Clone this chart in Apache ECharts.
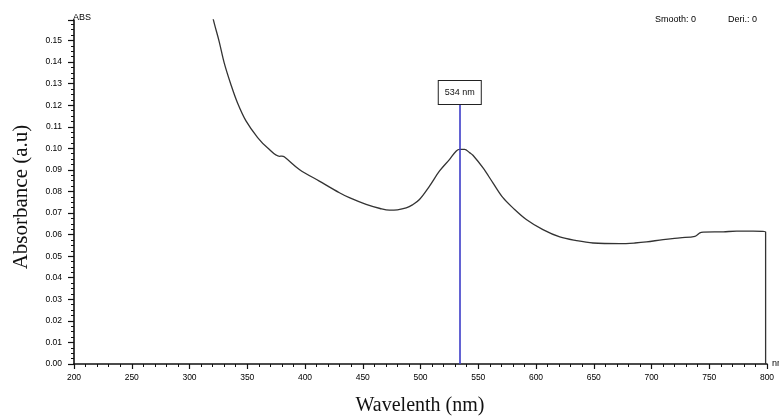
<!DOCTYPE html>
<html>
<head>
    <meta http-equiv="Content-Type" content="text/html; charset=utf-8" />
    <title>Absorbance spectrum</title>
    <style>
        html, body { margin: 0; padding: 0; background: #fff; }
        #main { width: 779px; height: 417px; }
    </style>
</head>
<body>
    <div id="main"></div>
    <script src="https://cdn.jsdelivr.net/npm/echarts@6/dist/echarts.min.js"></script>
    <script type="text/javascript">
        // wavelength (nm) and absorbance
        var wavelength = [319.5, 320.5, 325.7, 330.1, 335.9, 341.6, 348.9, 359.0, 368.0, 378.0, 380.0, 382.0,
            395.1, 412.4, 429.8, 438.4, 452.9, 465.0, 473.1, 480.0, 487.6, 493.0, 499.1, 507.8, 516.5,
            525.2, 531.0, 534.0, 538.2, 542.5, 545.4, 554.0, 562.7, 571.4, 580.0, 591.6, 606.0, 620.6,
            635.0, 649.4, 672.6, 685.6, 695.7, 710.1, 724.6, 737.6, 741.9, 744.8, 762.1, 773.7, 788.1,
            798.8, 798.8];
        var absorbance = [0.164, 0.160, 0.1495, 0.1395, 0.1295, 0.1210, 0.1127, 0.1050, 0.1000, 0.0963, 0.0964, 0.0961,
            0.0902, 0.0848, 0.0794, 0.0771, 0.0740, 0.0721, 0.0713, 0.0715, 0.0724, 0.0738, 0.0763, 0.0825, 0.0895,
            0.0949, 0.0988, 0.0995, 0.0995, 0.0980, 0.0968, 0.0910, 0.0840, 0.0771, 0.0724, 0.0670, 0.0623, 0.0589,
            0.0572, 0.0561, 0.0558, 0.0561, 0.0566, 0.0577, 0.0585, 0.0592, 0.0608, 0.0611, 0.0613, 0.0616, 0.0616,
            0.0613, 0];
        var peakWavelength = 534;
        var peakMarkTop = 0.1205;
        var yTicks = ['0.00', '0.01', '0.02', '0.03', '0.04', '0.05', '0.06', '0.07', '0.08',
            '0.09', '0.10', '0.11', '0.12', '0.13', '0.14', '0.15'];

        var points = wavelength.map(function (w, i) { return [w, absorbance[i]]; });

        var smallFont = { fontFamily: 'Liberation Sans', fontSize: 9, color: '#000' };
        var myChart = echarts.init(document.getElementById('main'));

        var option = {
            animation: false,
            backgroundColor: '#fff',
            grid: { left: 74, right: 12, top: 20, bottom: 53, containLabel: false, outerBoundsMode: 'none' },
            title: [
                { text: 'Smooth: 0', left: 650, top: 10, textStyle: Object.assign({ fontWeight: 'normal' }, smallFont) },
                { text: 'Deri.: 0', left: 723, top: 10, textStyle: Object.assign({ fontWeight: 'normal' }, smallFont) }
            ],
            graphic: [
                {
                    type: 'text', x: 21, y: 197, rotation: Math.PI / 2,
                    style: { text: 'Absorbance (a.u)', font: '21px "Liberation Serif"', fill: '#111',
                        textAlign: 'center', textVerticalAlign: 'middle' }
                },
                {
                    type: 'text', x: 420, y: 406,
                    style: { text: 'Wavelenth (nm)', font: '20px "Liberation Serif"', fill: '#111',
                        textAlign: 'center', textVerticalAlign: 'middle' }
                }
            ],
            xAxis: {
                type: 'value',
                min: 200,
                max: 800,
                interval: 50,
                name: 'nm',
                nameLocation: 'end',
                nameGap: 5,
                nameTextStyle: smallFont,
                axisLine: { show: true, lineStyle: { color: '#111', width: 1.6 } },
                axisTick: { show: true, length: 5, lineStyle: { color: '#111', width: 1.2 } },
                minorTick: { show: true, splitNumber: 5, length: 3, lineStyle: { color: '#111', width: 1 } },
                axisLabel: Object.assign({ margin: 9 }, smallFont, { fontSize: 8.5 }),
                splitLine: { show: false }
            },
            yAxis: {
                type: 'value',
                min: 0,
                max: 0.1595,
                interval: 0.01,
                name: 'ABS',
                nameLocation: 'end',
                nameGap: 0,
                nameTextStyle: Object.assign({ align: 'left', padding: [0, 0, -2, -1] }, smallFont),
                axisLine: { show: true, lineStyle: { color: '#111', width: 1.6 } },
                axisTick: { show: true, length: 6, lineStyle: { color: '#111', width: 1.2 } },
                minorTick: { show: true, splitNumber: 4, length: 3, lineStyle: { color: '#111', width: 1 } },
                axisLabel: Object.assign({
                    margin: 12,
                    formatter: function (v) { return yTicks[Math.round(v * 100)] || ''; }
                }, smallFont, { fontSize: 8.5 }),
                splitLine: { show: false }
            },
            series: [{
                type: 'line',
                data: points,
                showSymbol: false,
                smooth: 0.35,
                clip: true,
                lineStyle: { color: '#333', width: 1.3 },
                markLine: {
                    silent: true,
                    symbol: ['none', 'none'],
                    lineStyle: { color: '#3c3cc8', width: 1.6, type: 'solid' },
                    label: {
                        show: true,
                        position: 'end',
                        distance: 0,
                        formatter: peakWavelength + ' nm',
                        fontFamily: 'Liberation Sans',
                        fontSize: 9,
                        color: '#111',
                        backgroundColor: '#fff',
                        borderColor: '#222',
                        borderWidth: 1,
                        padding: [7, 6, 7, 6]
                    },
                    data: [[
                        { coord: [peakWavelength, 0] },
                        { coord: [peakWavelength, peakMarkTop] }
                    ]]
                }
            }]
        };

        myChart.setOption(option);
    </script>
</body>
</html>
